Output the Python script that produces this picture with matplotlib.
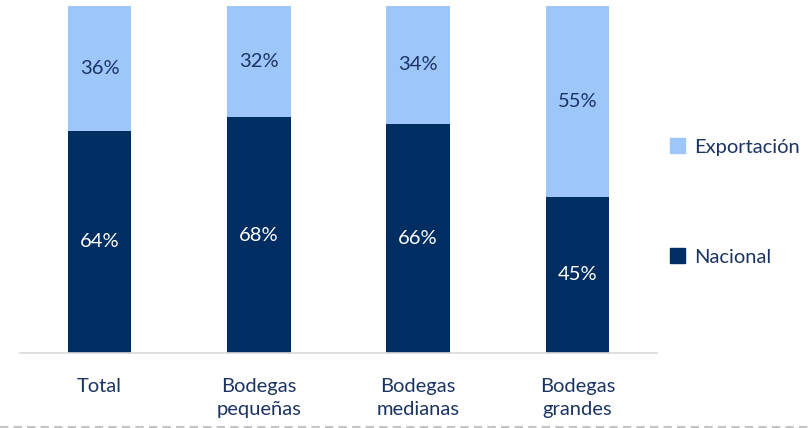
import matplotlib.pyplot as plt
from matplotlib.patches import Patch
from matplotlib.lines import Line2D

categorias = ["Total", "Bodegas\npequeñas", "Bodegas\nmedianas", "Bodegas\ngrandes"]
nacional = [64, 68, 66, 45]
exportacion = [36, 32, 34, 55]

azul_oscuro = "#002D62"
azul_claro = "#9DC6FA"
texto = "#1B3463"

plt.rcParams["font.family"] = ["Lato", "DejaVu Sans"]
fs = 14.5

fig = plt.figure(figsize=(8.1, 4.28), dpi=100)
ax = fig.add_axes([20 / 810, 1 - 353 / 428, 637 / 810, 347 / 428])

x = range(len(categorias))
ax.bar(x, nacional, width=0.4, color=azul_oscuro)
ax.bar(x, exportacion, width=0.4, bottom=nacional, color=azul_claro)

for i in x:
    ax.text(i, nacional[i] / 2, f"{nacional[i]}%", ha="center", va="center",
            color="white", fontsize=fs)
    ax.text(i, nacional[i] + exportacion[i] / 2, f"{exportacion[i]}%",
            ha="center", va="center", color=texto, fontsize=fs)

ax.set_xlim(-0.5, 3.5)
ax.set_ylim(0, 100)
ax.set_yticks([])
ax.set_xticks(list(x))
ax.set_xticklabels(categorias, color=texto, fontsize=fs, linespacing=1.4)
ax.tick_params(axis="x", length=0, pad=18)
for lado in ["top", "right", "left"]:
    ax.spines[lado].set_visible(False)
ax.spines["bottom"].set_color("#D9D9D9")
ax.spines["bottom"].set_linewidth(1.2)

# leyenda a la derecha
handles = [Patch(color=azul_claro), Patch(color=azul_oscuro)]
leg = fig.legend(handles, ["Exportación", "Nacional"], loc="center left",
                 bbox_to_anchor=(652 / 810, 1 - 202 / 428), frameon=False,
                 fontsize=fs, labelspacing=4.6, handlelength=0.75,
                 handleheight=0.75, handletextpad=0.45)
for t in leg.get_texts():
    t.set_color(texto)

# línea discontinua inferior
fig.add_artist(Line2D([0, 1], [1.5 / 428, 1.5 / 428], transform=fig.transFigure,
                      color="#C4C4C4", linestyle=(0, (4, 2.5)), linewidth=1.5))

fig.savefig("out.png", dpi=100)
